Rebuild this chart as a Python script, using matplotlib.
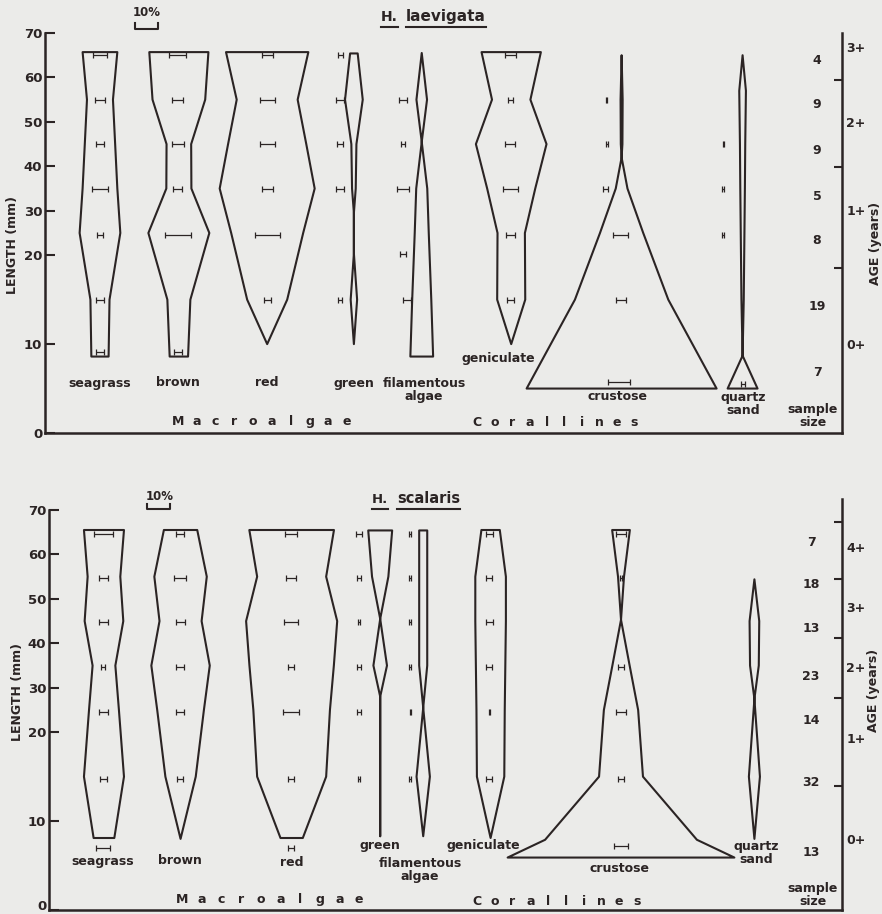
import numpy as np
import matplotlib.pyplot as plt
from matplotlib.patches import Polygon
from matplotlib.lines import Line2D
from matplotlib.ticker import FixedLocator, FixedFormatter, NullFormatter, NullLocator

plt.rcParams['font.family'] = ['DejaVu Sans']
plt.rcParams['font.weight'] = 'bold'

INK = '#2b2424'
BG = '#ebebe9'
W, H = 882, 914

categories = ['seagrass', 'brown', 'red', 'green', 'filamentous\nalgae',
              'geniculate', 'crustose', 'quartz\nsand']

# ---------------- H. laevigata (upper panel) ----------------
# kite outlines: shell length (mm) and width (% of individuals)
laev_seagrass_len = [65.7, 55, 45, 35, 25, 15, 8.6]
laev_seagrass_pct = [15.1, 11.3, 13.2, 15.1, 17.7, 8.3, 7.5]
laev_brown_len = [65.7, 55, 45, 35, 25, 15, 8.6]
laev_brown_pct = [25.7, 22.9, 10.7, 10.9, 26.5, 10.0, 8.0]
laev_red_len = [65.7, 55, 45, 35, 25, 15, 10]
laev_red_pct = [35.8, 26.5, 34.0, 41.3, 31.3, 17.4, 0]
laev_green_len = [65.4, 55, 45, 35, 29.5, 20.4, 15, 10]
laev_green_pct = [3.3, 7.7, 2.2, 1.6, 0, 0, 2.8, 0]
laev_filam_len = [65.5, 55, 45.5, 35, 25, 15, 8.6]
laev_filam_pct = [0, 4.6, 0, 4.8, 6.1, 8.3, 9.9]
laev_genic_len = [65.7, 55, 45, 35, 25, 15, 10]
laev_genic_pct = [25.8, 16.7, 30.7, 20.9, 11.9, 12.2, 0]
laev_crust_len = [65, 55, 45, 42, 35, 25, 15, 5]
laev_crust_pct = [0, 0.9, 0.7, 0, 5.1, 18.8, 40.6, 82.6]
laev_quartz_len = [65, 57, 45, 35, 25, 15, 8.7, 5]
laev_quartz_pct = [0, 2.9, 2.3, 2.0, 1.6, 1.0, 0, 13.0]

# error bars: length class and half width (%)
laev_seagrass_eb = [65, 55, 45, 35, 24.6, 15, 9.1]
laev_seagrass_err = [2.9, 2.3, 1.6, 3.3, 1.5, 1.6, 1.8]
laev_brown_eb = [65, 55, 45, 35, 24.6, 9.1]
laev_brown_err = [3.8, 2.5, 2.7, 2.0, 5.7, 1.7]
laev_red_eb = [65, 55, 45, 35, 24.6, 15]
laev_red_err = [2.4, 3.1, 3.4, 2.5, 5.4, 1.7]
laev_green_eb = [65, 55, 45, 35, 15]
laev_green_err = [1.1, 1.7, 1.4, 1.7, 1.0]
laev_filam_eb = [55, 45, 35, 20.3, 15]
laev_filam_err = [1.6, 0.9, 2.6, 1.2, 1.6]
laev_genic_eb = [65, 55, 45, 35, 24.6, 15]
laev_genic_err = [2.4, 1.2, 2.2, 3.3, 2.0, 1.6]
laev_crust_eb = [55, 45, 35, 24.6, 15, 5.7]
laev_crust_err = [0.3, 0.4, 1.1, 3.3, 2.2, 4.7]
laev_quartz_eb = [45, 35, 24.6, 5.5]
laev_quartz_err = [0.2, 0.5, 0.5, 0.9]

laev_n = [4, 9, 9, 5, 8, 19, 7]
laev_age_breaks = [59.5, 39.8, 18.6]
laev_age_labels = ['3+', '2+', '1+', '0+']
laev_age_pos = [66.8, 50, 30.2, 10]

# ---------------- H. scalaris (lower panel) ----------------
scal_seagrass_len = [65.5, 55, 45, 35, 25, 15, 8.1]
scal_seagrass_pct = [17.4, 14.2, 16.8, 9.9, 13.0, 17.4, 9.0]
scal_brown_len = [65.5, 55, 45, 35, 25, 15, 8.0]
scal_brown_pct = [14.5, 22.8, 18.3, 25.4, 20.3, 13.2, 0]
scal_red_len = [65.5, 55, 45, 35, 25, 15, 8.1]
scal_red_pct = [36.8, 30.0, 39.6, 36.7, 33.3, 30.0, 9.7]
scal_green_len = [65.4, 55, 45.5, 35, 28, 8.3]
scal_green_pct = [10.4, 7.1, 0, 5.9, 0, 0]
scal_filam_len = [65.4, 55, 45, 35, 25.5, 15, 8.3]
scal_filam_pct = [3.5, 3.5, 3.5, 3.5, 0, 5.8, 0]
scal_genic_len = [65.5, 55, 45, 35, 25, 15, 8.1]
scal_genic_pct = [8.0, 13.3, 13.3, 12.8, 12.3, 11.9, 0]
scal_crust_len = [65.5, 55, 45.3, 35, 25, 15, 7.9, 5.9]
scal_crust_pct = [7.7, 2.6, 0, 7.5, 14.9, 19.1, 66.0, 98.6]
scal_quartz_len = [54.4, 45, 35, 27.5, 15, 8.0]
scal_quartz_pct = [0, 4.2, 3.8, 0, 4.8, 0]

scal_seagrass_eb = [64.5, 54.6, 44.8, 34.7, 24.6, 14.7, 7.0]
scal_seagrass_err = [4.1, 2.0, 2.0, 0.9, 2.0, 1.6, 3.0]
scal_brown_eb = [64.5, 54.6, 44.8, 34.7, 24.6, 14.7]
scal_brown_err = [1.8, 2.6, 2.0, 1.7, 1.6, 1.3]
scal_red_eb = [64.5, 54.6, 44.8, 34.7, 24.6, 14.7, 7.0]
scal_red_err = [2.7, 2.0, 2.9, 1.3, 3.3, 1.2, 1.3]
scal_green_eb = [64.5, 54.6, 44.8, 34.7, 24.6, 14.7]
scal_green_err = [1.3, 0.8, 0.3, 0.8, 0.7, 0.5]
scal_filam_eb = [64.5, 54.6, 44.8, 34.7, 24.6, 14.7]
scal_filam_err = [0.5, 0.3, 0.3, 0.3, 0.2, 0.3]
scal_genic_eb = [64.5, 54.6, 44.8, 34.7, 24.6, 14.7]
scal_genic_err = [1.6, 1.4, 1.6, 1.2, 0.3, 1.2]
scal_crust_eb = [64.5, 54.6, 34.7, 24.6, 14.7, 7.2]
scal_crust_err = [2.0, 0.3, 1.2, 2.0, 1.4, 2.9]
scal_quartz_eb = []
scal_quartz_err = []

scal_n = [7, 18, 13, 23, 14, 32, 13]
scal_age_breaks = [67.3, 54.4, 41.3, 27.8, 14.0]
scal_age_labels = ['4+', '3+', '2+', '1+', '0+']
scal_age_pos = [61.6, 48.1, 34.6, 19.3, 8.0]

# layout (x in % units from the left axis, label positions in pixels)
laev_centers = [23.9, 58.2, 96.6, 134.3, 163.8, 202.7, 250.7, 303.3]
laev_eb_x = [23.9, 57.7, 96.7, 128.3, [155.7, 155.7, 155.7, 155.7, 157.4], 202.3,
             [244.2, 244.3, 243.5, 250.3, 250.3, 249.6], [294.8, 294.8, 294.8, 303.3]]
scal_centers = [23.9, 57.2, 105.5, 144.0, 162.7, 192.0, 248.7, 306.7]
scal_eb_x = [23.6, 57.0, 105.2, 134.8, 157.0, 191.4, 248.7, 306.7]

laev_label_xy = [(100, 383), (178, 383), (267, 382), (354, 383), (424, 390),
                 (498, 358), (618, 397), (743, 404)]
scal_label_xy = [(103, 861), (180, 861), (292, 862), (380, 845), (420, 870),
                 (483, 846), (620, 868), (756, 853)]
laev_n_y = [61, 104, 150, 197, 241, 306, 372]
scal_n_y = [543, 585, 629, 676, 721, 783, 853]


def fwd(y):
    y = np.asarray(y, dtype=float)
    return np.where(y <= 20, 2 * y, y + 20)


def inv(u):
    u = np.asarray(u, dtype=float)
    return np.where(u <= 40, u / 2, u - 20)


def ftext(px, py, s, **kw):
    kw.setdefault('color', INK)
    return fig.text(px / W, 1 - py / H, s, **kw)


def kite(ax, xc, lengths, pct):
    L = np.asarray(lengths, dtype=float)
    w = np.asarray(pct, dtype=float) / 2
    xs = np.concatenate([xc + w, (xc - w)[::-1]])
    ys = np.concatenate([L, L[::-1]])
    ax.add_patch(Polygon(np.column_stack([xs, ys]), closed=True, fill=False,
                         ec=INK, lw=1.5, joinstyle='round'))


def errbars(ax, x, levels, err):
    if len(levels) == 0:
        return
    xs = np.broadcast_to(np.asarray(x, dtype=float), (len(levels),))
    ax.errorbar(xs, levels, xerr=err, fmt='none', ecolor=INK, elinewidth=0.9,
                capsize=2, capthick=0.9)


def spaced(word, x0, x1, y):
    for ch, x in zip(word, np.linspace(x0, x1, len(word))):
        ftext(x, y, ch, ha='center', va='baseline', fontsize=9)


def make_axes(left, right, bottom_px, top_lim, breaks, age_pos, age_labels):
    height_px = fwd(top_lim) * 400 / 90
    ax = fig.add_axes([left / W, (H - bottom_px) / H, (right - left) / W, height_px / H])
    ax.set_yscale('function', functions=(fwd, inv))
    ax.set_ylim(0, top_lim)
    ax.set_xlim(0, (right - left) / 2.3)
    ax.set_facecolor('none')
    for s in ['top', 'right']:
        ax.spines[s].set_visible(False)
    for s in ['left', 'bottom']:
        ax.spines[s].set_linewidth(1.8)
        ax.spines[s].set_color(INK)
    ax.spines['left'].set_bounds(0, 70)
    ax.set_xticks([])
    ax.set_yticks(range(0, 80, 10))
    ax.yaxis.set_minor_locator(NullLocator())
    ax.tick_params(axis='y', direction='in', length=7, width=1.5, pad=2,
                   labelsize=9.5, color=INK, labelcolor=INK)

    ax2 = ax.twinx()
    ax2.set_yscale('function', functions=(fwd, inv))
    ax2.set_ylim(0, top_lim)
    for s in ['top', 'left', 'bottom']:
        ax2.spines[s].set_visible(False)
    ax2.spines['right'].set_linewidth(1.8)
    ax2.spines['right'].set_color(INK)
    ax2.yaxis.set_major_locator(FixedLocator(breaks))
    ax2.yaxis.set_major_formatter(NullFormatter())
    ax2.yaxis.set_minor_locator(FixedLocator(age_pos))
    ax2.yaxis.set_minor_formatter(FixedFormatter(age_labels))
    ax2.tick_params(which='major', direction='in', length=6, width=1.5, color=INK)
    ax2.tick_params(which='minor', length=0, pad=3, labelsize=9, labelcolor=INK)
    return ax


fig = plt.figure(figsize=(W / 100, H / 100), dpi=100, facecolor=BG)

# ---------- upper panel ----------
ax = make_axes(45, 842, 433, 70, laev_age_breaks, laev_age_pos, laev_age_labels)
laev_kites = [(laev_seagrass_len, laev_seagrass_pct), (laev_brown_len, laev_brown_pct),
              (laev_red_len, laev_red_pct), (laev_green_len, laev_green_pct),
              (laev_filam_len, laev_filam_pct), (laev_genic_len, laev_genic_pct),
              (laev_crust_len, laev_crust_pct), (laev_quartz_len, laev_quartz_pct)]
laev_bars = [(laev_seagrass_eb, laev_seagrass_err), (laev_brown_eb, laev_brown_err),
             (laev_red_eb, laev_red_err), (laev_green_eb, laev_green_err),
             (laev_filam_eb, laev_filam_err), (laev_genic_eb, laev_genic_err),
             (laev_crust_eb, laev_crust_err), (laev_quartz_eb, laev_quartz_err)]
for xc, (L, p), xe, (lv, er) in zip(laev_centers, laev_kites, laev_eb_x, laev_bars):
    kite(ax, xc, L, p)
    errbars(ax, xe, lv, er)
ax.plot([39.1, 39.1, 49.1, 49.1], [72.2, 70.9, 70.9, 72.2], color=INK, lw=1.5,
        clip_on=False)

for name, (px, py) in zip(categories, laev_label_xy):
    ftext(px, py, name, ha='center', va='center', fontsize=9, linespacing=0.95)
for n, py in zip(laev_n, laev_n_y):
    ftext(817, py, str(n), ha='center', va='center', fontsize=9)
ftext(813, 416, 'sample\nsize', ha='center', va='center', fontsize=9, linespacing=0.95)
ftext(147, 13, '10%', ha='center', va='center', fontsize=8.5)
ftext(13, 245, 'LENGTH (mm)', rotation=90, ha='center', va='center', fontsize=9)
ftext(876, 243, 'AGE (years)', rotation=90, ha='center', va='center', fontsize=9)
spaced('Macroalgae', 178, 347, 425)
spaced('Corallines', 477, 634, 426)

# ---------- lower panel ----------
ax = make_axes(49, 842, 910, 72.5, scal_age_breaks, scal_age_pos, scal_age_labels)
scal_kites = [(scal_seagrass_len, scal_seagrass_pct), (scal_brown_len, scal_brown_pct),
              (scal_red_len, scal_red_pct), (scal_green_len, scal_green_pct),
              (scal_filam_len, scal_filam_pct), (scal_genic_len, scal_genic_pct),
              (scal_crust_len, scal_crust_pct), (scal_quartz_len, scal_quartz_pct)]
scal_bars = [(scal_seagrass_eb, scal_seagrass_err), (scal_brown_eb, scal_brown_err),
             (scal_red_eb, scal_red_err), (scal_green_eb, scal_green_err),
             (scal_filam_eb, scal_filam_err), (scal_genic_eb, scal_genic_err),
             (scal_crust_eb, scal_crust_err), (scal_quartz_eb, scal_quartz_err)]
for xc, (L, p), xe, (lv, er) in zip(scal_centers, scal_kites, scal_eb_x, scal_bars):
    kite(ax, xc, L, p)
    errbars(ax, xe, lv, er)
ax.plot([42.6, 42.6, 52.6, 52.6], [71.4, 70.2, 70.2, 71.4], color=INK, lw=1.5,
        clip_on=False)
# the "0" sits on the figure edge; lift it just enough to stay visible
ax.get_yticklabels()[0].set_verticalalignment('baseline')

for name, (px, py) in zip(categories, scal_label_xy):
    ftext(px, py, name, ha='center', va='center', fontsize=9, linespacing=0.95)
for n, py in zip(scal_n, scal_n_y):
    ftext(811, py, str(n), ha='center', va='center', fontsize=9)
ftext(813, 895, 'sample\nsize', ha='center', va='center', fontsize=9, linespacing=0.95)
ftext(160, 497, '10%', ha='center', va='center', fontsize=8.5)
ftext(18, 692, 'LENGTH (mm)', rotation=90, ha='center', va='center', fontsize=9)
ftext(874, 690, 'AGE (years)', rotation=90, ha='center', va='center', fontsize=9)
spaced('Macroalgae', 182, 359, 903)
spaced('Corallines', 477, 637, 905)

# titles with separate underlines
titles = [(381, 406, 21, 11, 'laevigata'), (372, 397, 503, 10.5, 'scalaris')]
renderer = fig.canvas.get_renderer()
for xh, xs, yb, fs, species in titles:
    for x0, s, size in [(xh, 'H.', fs - 1), (xs, species, fs)]:
        t = ftext(x0, yb, s, ha='left', va='baseline', fontsize=size)
        bb = t.get_window_extent(renderer)
        yl = 1 - (yb + 5.5) / H
        fig.add_artist(Line2D([bb.x0 / W, bb.x1 / W], [yl, yl], color=INK, lw=1.5,
                              transform=fig.transFigure))

fig.savefig('out.png', dpi=100, facecolor=BG)
